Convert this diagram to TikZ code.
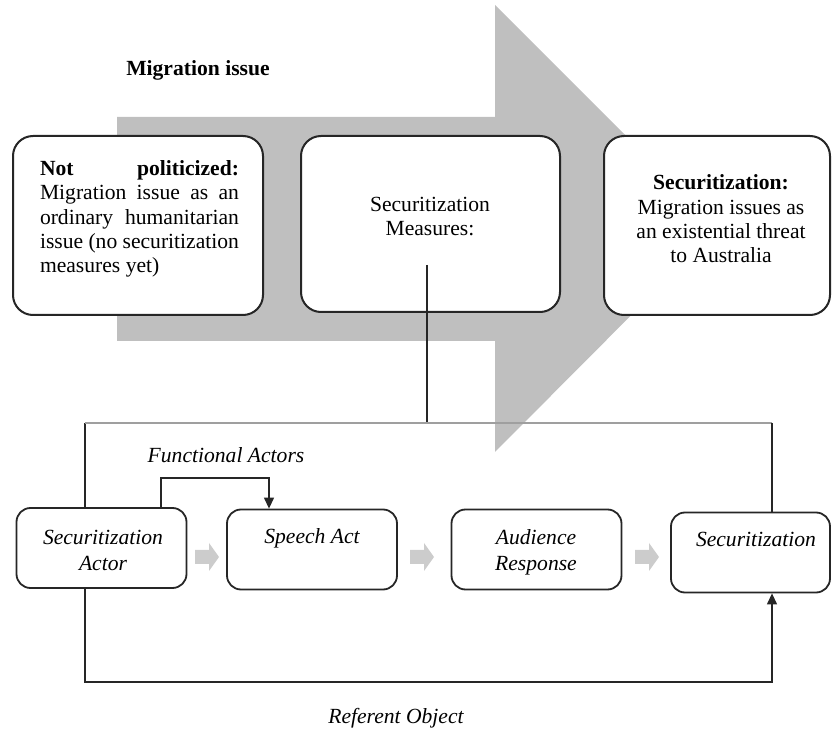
\documentclass[tikz,border=0pt]{standalone}
\usepackage{fontspec}
\setmainfont{Liberation Serif}
\usetikzlibrary{arrows.meta}

\begin{document}
\begin{tikzpicture}
	[x=0.5pt,y=-0.5pt,
	bigbox/.style={rectangle,rounded corners=10pt,draw=black!85,line width=1pt,fill=white},
	smallbox/.style={rectangle,rounded corners=7pt,draw=black!85,line width=0.9pt,fill=white,minimum width=85pt,minimum height=40pt},
	plain/.style={draw=none,fill=none,inner sep=0pt,align=center,font=\fontsize{10.8}{12.2}\selectfont},
	itext/.style={plain,font=\fontsize{10.8}{13}\selectfont\itshape},
	link/.style={draw=black!85,line width=0.6pt},
	tip/.style={-{Triangle[length=5.5pt,width=5pt]}}
	]
	\useasboundingbox (0,0) rectangle (832,733);

	% big grey arrow behind the three stages
	\fill[gray!50] (117,117) -- (495,117) -- (495,5) -- (718,228) -- (495,452) -- (495,341) -- (117,341) -- cycle;

	\node[plain,font=\fontsize{10.8}{12.2}\selectfont\bfseries] (mig) at (198,70){Migration issue};

	\node[bigbox,minimum width=125pt,minimum height=89.5pt] (notpol) at (138,225.5){};
	\node[bigbox,minimum width=129.5pt,minimum height=88pt] (measures) at (430.5,224){};
	\node[bigbox,minimum width=113pt,minimum height=89.5pt] (securbig) at (717,225.5){};

	\node[plain,align=left] (notpoltext) at (139.5,219){%
		\makebox[99.5pt][s]{\textbf{Not politicized:}}\\
		\makebox[99.5pt][s]{Migration issue as an}\\
		\makebox[99.5pt][s]{ordinary humanitarian}\\
		\makebox[99.5pt][s]{issue (no securitization}\\
		\makebox[99.5pt][l]{measures yet)}};
	\node[plain] (measurestext) at (430,216.5){Securitization\\Measures:};
	\node[plain] (securbigtext) at (721,219){\textbf{Securitization:}\\Migration issues as\\an existential threat\\to Australia};

	% lower process
	\node[smallbox] (actor) at (101.5,548){};
	\node[smallbox] (speech) at (312,549.5){};
	\node[smallbox] (audience) at (536.5,549.5){};
	\node[smallbox,minimum width=79.5pt] (secur) at (750.5,552.5){};

	\node[itext] (actortext) at (103,550){Securitization\\Actor};
	\node[itext] (speechtext) at (312,538){Speech Act};
	\node[itext] (audiencetext) at (536,552){Audience\\Response};
	\node[itext] (securtext) at (756,539){Securitization};

	\foreach \ax in {195,410,635}
		\fill[gray!40] (\ax,550) -- (\ax+14,550) -- (\ax+14,543) -- (\ax+24,557) -- (\ax+14,571) -- (\ax+14,564) -- (\ax,564) -- cycle;

	\coordinate (tl) at (85,423);
	\coordinate (tr) at (772,423);
	\coordinate (bl) at (85,682);
	\coordinate (br) at (772,682);
	\coordinate (mline) at (427,265);
	\coordinate (fa1) at (161,478);
	\coordinate (fa2) at (269,478);

	\draw[link] (mline) -- (mline |- tl);
	\draw[link] (actor.north -| tl) -- (tl);
	\draw[link,draw=gray!75] (tl) -- (tr);
	\draw[link] (tr) -- (secur.north -| tr);
	\draw[link,tip] (actor.south -| bl) -- (bl) -- (br) -- (secur.south -| br);
	\draw[link,tip] (actor.north -| fa1) -- (fa1) -- (fa2) -- (speech.north -| fa2);

	\node[itext] (functional) at (226,455){Functional Actors};
	\node[itext] (referent) at (396,718){Referent Object};
\end{tikzpicture}
\end{document}
